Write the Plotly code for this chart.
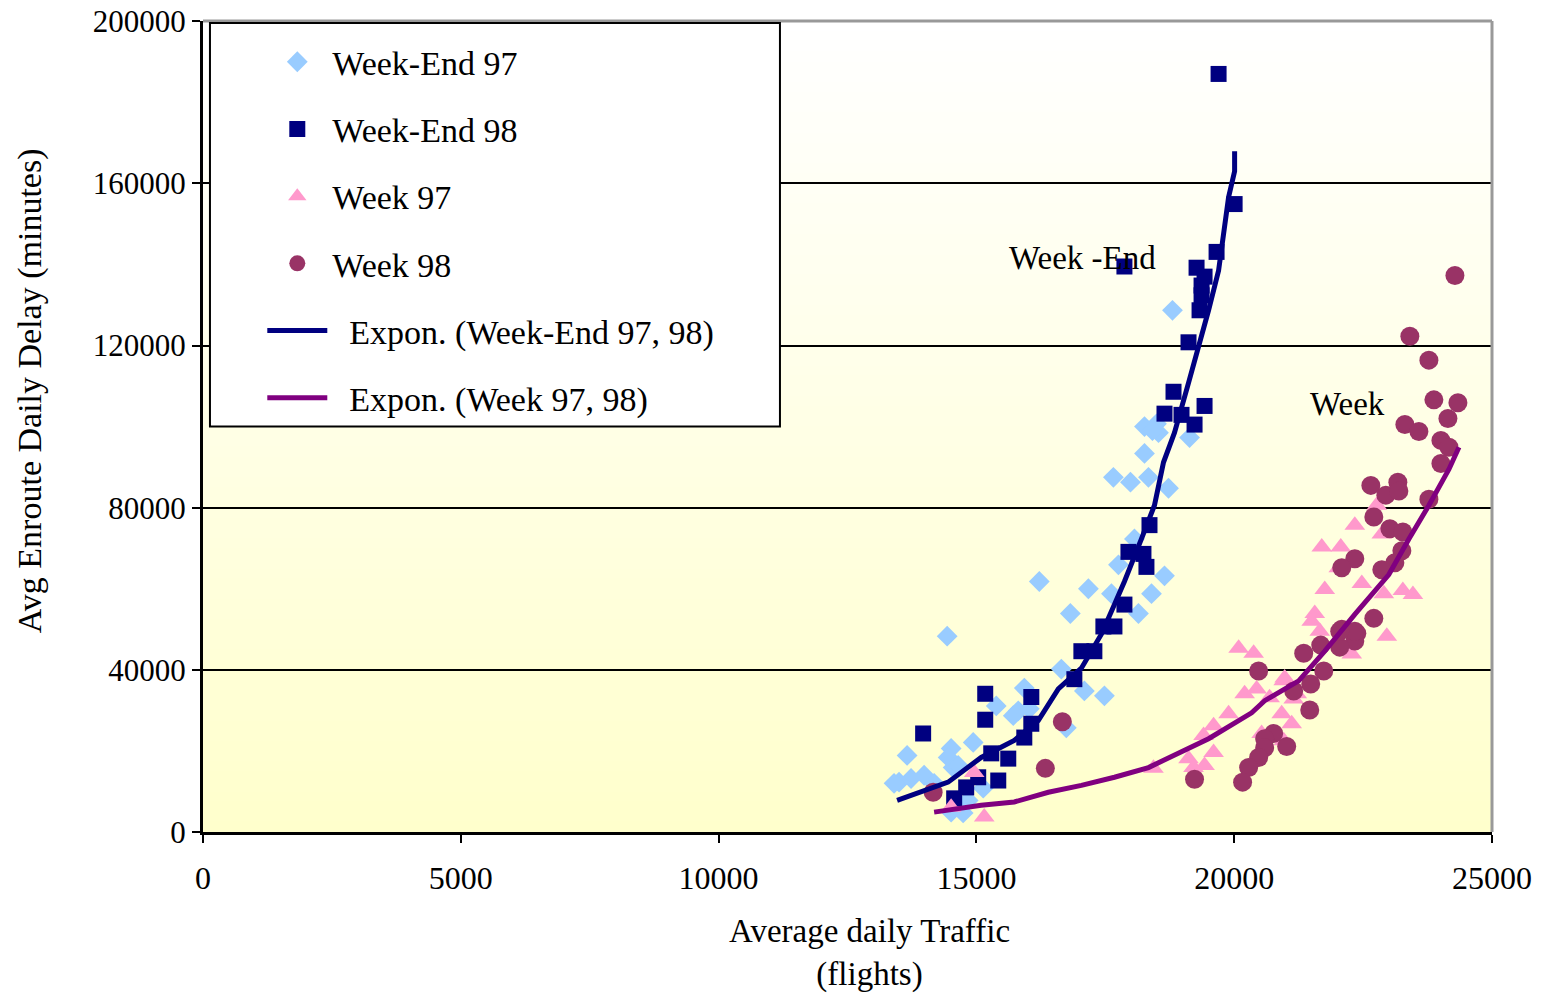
import plotly.graph_objects as go

# ---- data: average daily traffic (flights) vs. avg en-route daily delay (minutes)
we97_x = [18803, 18260, 18493, 18532, 18415, 19134, 18260, 17657, 17988, 18337, 18726,
          18065, 17755, 18648, 17172, 17619, 18396, 18143, 16822, 16220, 14433, 16647,
          17094, 17483, 15385, 15929, 15812, 16026, 15715, 16744, 14938, 14510, 14452,
          13656, 14549, 14646, 13986, 13733, 13500, 13403, 14180, 15132, 14841, 14510, 14743]
we97_y = [128700, 100000, 100700, 98500, 99000, 97300, 93400, 87500, 86300, 87500, 84800,
          72300, 65900, 63200, 60000, 58800, 58800, 53900, 53900, 61800, 48300, 40200,
          34800, 33600, 31100, 35500, 29900, 30400, 28700, 25700, 22100, 20600, 18400,
          18900, 15900, 16400, 14000, 13200, 12300, 12000, 12000, 10800, 7800, 4900, 4700]

we98_x = [19697, 20008, 19658, 17871, 19270, 19425, 19367, 19367, 19328, 19114, 18823,
          19425, 18648, 18978, 19231, 18357, 17949, 18240, 18298, 17871, 17463, 17677,
          17036, 17288, 16900, 16065, 15171, 15171, 13967, 16065, 15929, 15288, 15618,
          15424, 14802, 14569, 15035]
we98_y = [187000, 154900, 143100, 139500, 139200, 137000, 134800, 132400, 128700, 120800, 108600,
          105100, 103200, 102900, 100500, 75700, 69100, 68600, 65400, 56100, 50700, 50700,
          44600, 44600, 37700, 33300, 34100, 27700, 24300, 26700, 23300, 19400, 18100,
          12700, 11000, 8300, 13500]

wk97_x = [22766, 22339, 22863, 21698, 22067, 22028, 22475, 21756, 22902, 23271, 23466,
          21562, 21503, 21659, 22960, 22280, 20086, 20377, 20202, 20435, 20979, 21212,
          20960, 21154, 20687, 20921, 21115, 20532, 20960, 19891, 19600, 19406, 19600,
          19114, 19425, 19211, 18434, 15152, 14510, 14957]
wk97_y = [80600, 75700, 73500, 70300, 70300, 65200, 61300, 59800, 58800, 59600, 58600,
          53900, 52000, 49500, 48300, 43900, 45300, 44100, 34100, 35300, 38000, 34100,
          37300, 32800, 33100, 29200, 26700, 24300, 22500, 29200, 26200, 23800, 19600,
          18100, 16400, 15900, 15700, 3700, 6100, 14700]

wk98_x = [24281, 23407, 23776, 23873, 24339, 24145, 23310, 23582, 24009, 24165, 24009,
          22650, 23174, 22941, 23194, 23776, 22708, 23019, 23271, 23252, 22339, 22086,
          23116, 22863, 22708, 22086, 22378, 22339, 22047, 21678, 21348, 20474, 21737,
          21484, 21154, 21465, 21018, 20765, 20591, 20591, 20474, 20280, 20163, 19231,
          16667, 16337, 14161, 22339, 22047]
wk98_y = [137300, 122300, 116400, 106600, 105900, 102000, 100500, 98800, 96600, 94900, 90900,
          85500, 86300, 83100, 84100, 82100, 77700, 74800, 74000, 69400, 67400, 65200,
          66400, 64700, 52700, 50000, 49000, 47100, 45600, 46100, 44100, 39700, 39700,
          36500, 34800, 30100, 21100, 24300, 23000, 20800, 18400, 15900, 12300, 13000,
          27200, 15700, 9800, 49500, 49500]

# exponential trend lines (Week-End 97+98, Week 97+98)
trend_we_x = [13462, 14452, 15093, 15734, 16200, 16589, 17036, 17424, 17677, 17871, 18201,
              18454, 18629, 18842, 19114, 19367, 19503, 19697, 19891, 20008, 20008]
trend_we_y = [7800, 12300, 18400, 22600, 27500, 35300, 40400, 48800, 56100, 61800, 72300,
              80600, 91200, 98500, 110800, 122300, 128700, 138500, 156600, 163000, 167900]
trend_wk_x = [14180, 15093, 15734, 16395, 17036, 17677, 18337, 18842, 19503, 20338, 20591,
              21251, 21756, 22339, 22999, 23388, 23777, 24165, 24359]
trend_wk_y = [4900, 6600, 7400, 9800, 11500, 13500, 15900, 18900, 23000, 29400, 32400,
              37300, 44600, 53700, 63500, 72300, 80600, 89500, 94900]

x_ticks = [0, 5000, 10000, 15000, 20000, 25000]
y_ticks = [0, 40000, 80000, 120000, 160000, 200000]

SERIF = "Liberation Serif, Times New Roman, serif"

fig = go.Figure()

fig.add_trace(go.Scatter(
    x=we97_x, y=we97_y, mode="markers", name="Week-End 97", legendgroup="a",
    marker=dict(symbol="diamond", size=16, color="#99CCFF", line=dict(width=0))))
fig.add_trace(go.Scatter(
    x=we98_x, y=we98_y, mode="markers", name="Week-End 98", legendgroup="b",
    marker=dict(symbol="square", size=16, color="#000080", line=dict(width=0))))
fig.add_trace(go.Scatter(
    x=wk97_x, y=wk97_y, mode="markers", name="Week 97", legendgroup="c",
    marker=dict(symbol="triangle-up", size=18, color="#FF99CC", line=dict(width=0))))
fig.add_trace(go.Scatter(
    x=wk98_x, y=wk98_y, mode="markers", name="Week 98", legendgroup="d",
    marker=dict(symbol="circle", size=19, color="#993366", line=dict(width=0))))
fig.add_trace(go.Scatter(
    x=trend_we_x, y=trend_we_y, mode="lines", name="  Expon. (Week-End 97, 98)",
    legendgroup="e", line=dict(color="#000080", width=5)))
fig.add_trace(go.Scatter(
    x=trend_wk_x, y=trend_wk_y, mode="lines", name="  Expon. (Week 97, 98)",
    legendgroup="f", line=dict(color="#800080", width=5)))

# plot-area background: light yellow at the bottom fading to white at the top
shapes = []
n_bands = 80
for i in range(n_bands):
    t = i / (n_bands - 1)
    b = int(round(204 + (255 - 204) * t))
    shapes.append(dict(type="rect", xref="paper", yref="paper",
                       x0=0, x1=1, y0=i / n_bands, y1=(i + 1) / n_bands + 0.002,
                       fillcolor=f"rgb(255,255,{b})", line=dict(width=0), layer="below"))

# grey frame on top and right edges of the plot area
shapes.append(dict(type="line", xref="paper", yref="paper", x0=0, x1=1, y0=1, y1=1,
                   line=dict(color="#999999", width=3), layer="above"))
shapes.append(dict(type="line", xref="paper", yref="paper", x0=1, x1=1, y0=0, y1=1,
                   line=dict(color="#999999", width=3), layer="above"))

# legend box
shapes.append(dict(type="rect", xref="paper", yref="paper",
                   x0=0.0054, x1=0.4476, y0=0.5, y1=0.9975,
                   fillcolor="white", line=dict(color="black", width=2), layer="above"))

annotations = [
    dict(text="Week -End", x=17055, y=141700, xref="x", yref="y", showarrow=False,
         font=dict(family=SERIF, size=33, color="black")),
    dict(text="Week", x=22203, y=105600, xref="x", yref="y", showarrow=False,
         font=dict(family=SERIF, size=33, color="black")),
    dict(text="Avg Enroute Daily Delay (minutes)", x=-0.151, y=0.544,
         xref="paper", yref="paper", textangle=-90, showarrow=False,
         font=dict(family=SERIF, size=34, color="black")),
    dict(text="Average daily Traffic<br>(flights)", x=0.5167, y=-0.149,
         xref="paper", yref="paper", showarrow=False, yanchor="middle",
         font=dict(family=SERIF, size=33, color="black")),
]

fig.update_layout(
    width=1557, height=993,
    margin=dict(l=203, r=65, t=21, b=161, autoexpand=False),
    paper_bgcolor="white",
    plot_bgcolor="rgba(0,0,0,0)",
    font=dict(family=SERIF, size=31, color="black"),
    shapes=shapes,
    annotations=annotations,
    showlegend=True,
    legend=dict(x=0.046, y=0.985, xanchor="left", yanchor="top",
                bgcolor="rgba(0,0,0,0)", borderwidth=0,
                font=dict(family=SERIF, size=34, color="black"),
                tracegroupgap=20, itemwidth=60, traceorder="grouped"),
)

fig.update_xaxes(
    range=[0, 25000], tickvals=x_ticks, ticktext=[str(v) for v in x_ticks],
    showgrid=False, zeroline=False, automargin=False,
    showline=True, linecolor="black", linewidth=3,
    ticks="outside", ticklen=8, tickwidth=2, tickcolor="black",
    ticklabelstandoff=8, ticklabeloverflow="allow",
    tickfont=dict(family=SERIF, size=32, color="black"),
)
fig.update_yaxes(
    range=[0, 200060], tickvals=y_ticks, ticktext=[str(v) for v in y_ticks],
    showgrid=True, gridcolor="black", gridwidth=2, zeroline=False, automargin=False,
    showline=True, linecolor="black", linewidth=3,
    ticks="outside", ticklen=8, tickwidth=2, tickcolor="black",
    ticklabelstandoff=0, ticklabeloverflow="allow",
    tickfont=dict(family=SERIF, size=31, color="black"),
)

fig.write_html("out.html")
